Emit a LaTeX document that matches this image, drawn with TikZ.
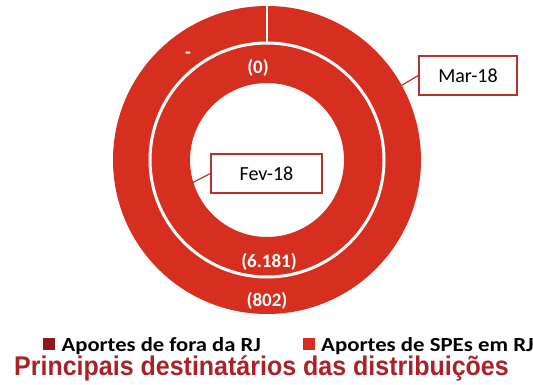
\documentclass[tikz,border=0pt]{standalone}
\usepackage{fontspec}
\usepackage{graphicx}
\setmainfont{Carlito}
\newfontfamily\titlefont{Liberation Sans}
\usetikzlibrary{positioning}
\definecolor{ringred}{RGB}{214,46,31}
\definecolor{legdark}{RGB}{140,26,26}
\definecolor{boxred}{RGB}{180,52,42}
\definecolor{titlered}{RGB}{170,34,40}

\begin{document}
\begin{tikzpicture}[x=1pt,y=-1pt,
		lbl/.style={text=white,font=\bfseries\fontsize{19}{22}\selectfont},
		callout/.style={draw=boxred,line width=1.4pt,fill=white,minimum width=98pt,minimum height=39pt,font=\fontsize{20}{24}\selectfont},
		leg/.style={font=\bfseries\fontsize{20}{24}\selectfont,anchor=base west,inner sep=0pt},
		legsq/.style={minimum size=12pt,inner sep=0pt}]
		\useasboundingbox (0,0) rectangle (533,385);

		\coordinate (O) at (267,160);
		\coordinate (marpt) at ([shift={(29:154pt)}]O);
		\coordinate (fevpt) at ([shift={(197:78pt)}]O);

		\fill[ringred,even odd rule] (O) circle[radius=154pt] (O) circle[radius=77pt];
		\draw[white,line width=3pt] (O) circle[radius=117pt];
		\draw[white,line width=2pt] ([yshift=154pt]O) -- ([yshift=117pt]O);

		\node[lbl] (dash) at (188,55) {-};
		\node[lbl] (v0) at (258,68) {(0)};
		\node[lbl] (v6181) at (269,262) {(6.181)};
		\node[lbl] (v802) at (267,301) {(802)};

		\node[callout] (mar) at (468,75.5) {Mar-18};
		\draw[boxred,line width=1.2pt] (mar.west) -- (marpt);
		\node[callout,minimum width=111pt] (fev) at (266.5,173.5) {Fev-18};
		\draw[boxred,line width=1.2pt] (fev.west) -- (fevpt);

		\node[legsq,fill=legdark] (sq1) at (49,344) {};
		\node[leg] (leg1) at (61.5,351) {\scalebox{1.13}[1]{Aportes de fora da RJ}};
		\node[legsq,fill=ringred] (sq2) at (308.5,344) {};
		\node[leg] (leg2) at (321,351) {\scalebox{1.14}[1]{Aportes de SPEs em RJ}};

		\node[font=\titlefont\bfseries\fontsize{25}{30}\selectfont,text=titlered,anchor=base west,inner sep=0pt] (title) at (14,375.5) {\scalebox{1}[1.08]{Principais destinatários das distribuições}};
	\end{tikzpicture}
\end{document}
